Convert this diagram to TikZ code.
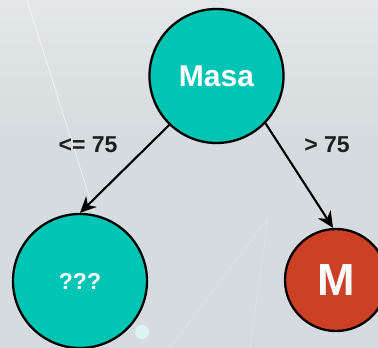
\documentclass[tikz,border=0pt]{standalone}
\usepackage{fontspec}
\setmainfont{Liberation Sans}
\usetikzlibrary{arrows.meta}
\definecolor{bgcol}{HTML}{D5DBDE}
\definecolor{teal}{HTML}{00C4B4}
\definecolor{redcol}{HTML}{CC4125}
\definecolor{labcol}{HTML}{1E1E1E}
\definecolor{glow}{HTML}{DDFBF8}
\tikzset{
  treenode/.style={circle, draw=black, line width=2.3pt, inner sep=0pt, text=white, font=\bfseries},
  edge/.style={draw=black, line width=2.1pt, -{Stealth[length=16pt,width=15pt,inset=5pt]}},
  edgelabel/.style={text=labcol, font=\bfseries\fontsize{23}{23}\selectfont}
}
\begin{document}
\begin{tikzpicture}[x=1pt,y=1pt]
\useasboundingbox (0,0) rectangle (378,348);
\begin{scope}
\clip (0,0) rectangle (378,348);
\fill[bgcol] (0,0) rectangle (378,348);
\shade[top color=white, bottom color=bgcol, opacity=0.35] (0,200) rectangle (378,348);
\draw[white, opacity=0.6, line width=0.8pt] (27,348) -- (96,130);
\draw[white, opacity=0.25, line width=0.6pt] (170,0) -- (268,130);
\draw[white, opacity=0.2, line width=0.6pt] (250,0) -- (268,130);
\node[treenode, fill=teal, minimum size=134pt, font=\bfseries\fontsize{30}{30}\selectfont] (masa) at (216.5,272) {Masa};
\node[treenode, fill=teal, minimum size=134pt, font=\bfseries\fontsize{23}{23}\selectfont] (unk) at (80,67) {???};
\node[treenode, fill=redcol, minimum size=102pt, font=\bfseries\fontsize{45}{45}\selectfont] (m) at (336,68) {M};
\fill[glow, opacity=0.8] (142,16) circle (7);
\end{scope}
\draw[edge] (masa.226) -- (unk.north);
\draw[edge] (masa.-44) -- ([xshift=-3pt]m.north);
\node[edgelabel] (l1) at (88,203) {<= 75};
\node[edgelabel] (l2) at (327,203) {> 75};
\end{tikzpicture}
\end{document}
